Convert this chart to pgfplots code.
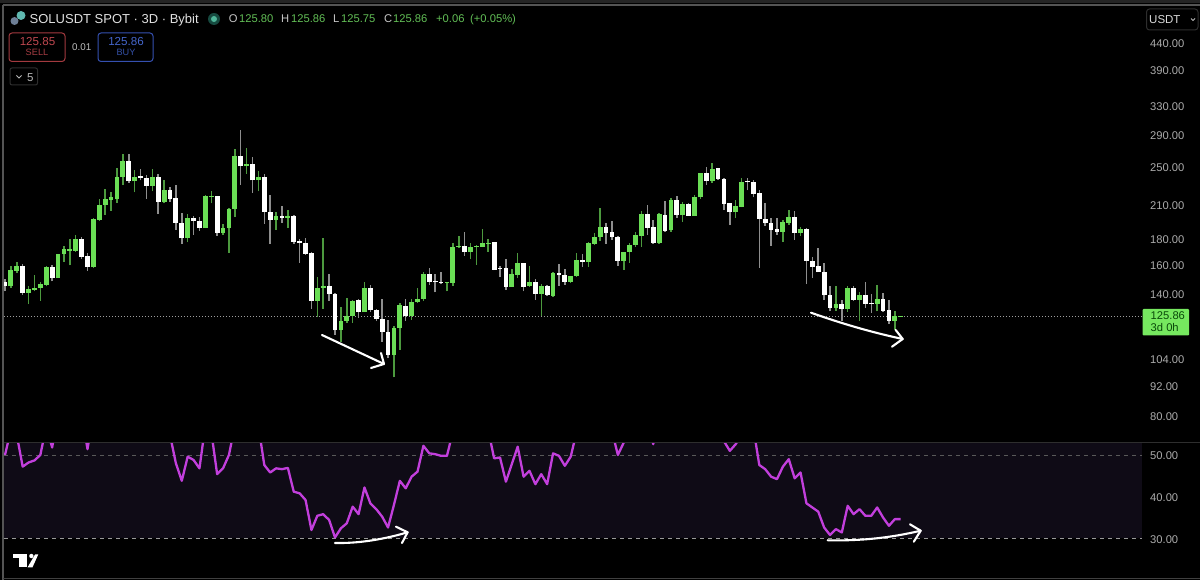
\documentclass[border=0pt]{standalone}
\usepackage{fontspec}
\setmainfont{Liberation Sans}
\usepackage{pgfplots}
\usepackage{pgfplotstable}
\pgfplotsset{compat=1.18}

\definecolor{upbody}{HTML}{6ADE55}
\definecolor{upwick}{HTML}{4C9A3E}
\definecolor{dnbody}{HTML}{FFFFFF}
\definecolor{dnwick}{HTML}{8E8E8E}
\definecolor{rsiline}{HTML}{C23FDC}
\definecolor{rsiband}{HTML}{0F0B16}
\definecolor{tick}{HTML}{ABABAB}
\definecolor{legendgreen}{HTML}{62BE56}
\definecolor{icona}{HTML}{5FB8B0}
\definecolor{iconb}{HTML}{6E7F96}
\definecolor{dothalo}{HTML}{164A40}
\definecolor{dotcore}{HTML}{4FB79A}
\definecolor{sellbox}{HTML}{A33A3F}
\definecolor{selltxt}{HTML}{C04850}
\definecolor{selllab}{HTML}{A83E44}
\definecolor{buybox}{HTML}{3550B0}
\definecolor{buytxt}{HTML}{4566CC}
\definecolor{buylab}{HTML}{3450A6}
\definecolor{tagfill}{HTML}{76E85F}
\definecolor{tagtxt}{HTML}{0A4A0A}

% x low bot top high
\pgfplotstableread{
x low bot top high
1 143.5 144.6 156.0 158.4
2 153.6 155.3 158.8 162.0
4 133.4 140.3 143.1 145.1
5 141.4 142.5 143.8 152.5
6 135.5 143.5 146.1 147.3
7 144.6 145.7 157.9 158.8
9 150.2 150.2 167.8 167.8
10 162.0 167.6 171.5 174.0
11 159.1 170.3 171.9 179.5
12 169.5 170.3 179.7 183.0
15 157.2 157.9 196.6 197.5
16 195.3 196.0 210.0 215.3
17 200.5 209.8 215.7 225.7
18 204.4 214.6 217.3 222.3
19 212.0 215.7 237.9 248.4
20 230.2 237.9 257.0 264.7
22 222.3 233.6 237.9 245.6
25 223.3 229.1 238.4 247.3
27 211.4 212.9 225.0 234.7
31 176.8 180.1 197.8 201.4
34 188.8 189.0 219.0 219.7
35 211.4 217.7 219.0 223.3
37 183.0 184.4 188.8 192.4
38 168.8 188.8 205.8 206.7
39 199.0 205.8 262.7 270.7
41 242.0 250.2 253.2 272.0
43 223.3 234.7 238.4 244.5
46 187.2 196.0 199.6 203.4
48 188.8 197.8 199.6 205.1
53 125.8 135.5 143.8 150.9
54 130.6 143.8 144.8 180.7
57 112.3 118.3 123.7 131.6
58 122.4 123.3 126.5 136.9
59 122.4 126.5 135.5 135.6
61 128.5 128.5 143.8 147.7
66 95.4 105.8 119.4 120.5
67 108.2 119.4 132.6 134.0
69 124.2 126.0 134.4 136.7
70 134.0 134.4 136.7 143.5
71 135.1 136.7 153.1 154.1
75 141.4 147.3 147.7 147.7
76 145.1 147.1 173.2 176.2
77 172.2 173.0 174.2 182.2
79 163.8 169.1 173.5 176.2
80 159.5 173.5 174.2 174.8
81 173.0 173.2 176.2 187.8
82 169.5 175.8 176.6 179.5
86 144.2 144.2 152.7 156.5
87 150.2 152.3 161.2 168.3
89 144.2 144.6 147.7 158.8
91 126.5 139.9 144.6 146.3
93 137.7 138.6 153.9 154.1
96 146.8 147.6 151.8 151.8
97 151.0 151.5 163.0 168.3
99 157.9 162.0 176.2 177.4
100 174.8 175.6 181.5 184.4
101 178.3 181.2 189.7 206.6
105 156.0 162.5 169.5 169.5
106 161.2 169.3 175.0 176.2
107 173.5 175.0 183.0 185.7
108 173.5 182.2 201.4 204.4
111 175.6 176.2 201.1 201.9
113 185.7 186.9 214.3 216.7
115 194.4 200.2 210.7 212.9
117 199.6 199.8 218.0 220.0
118 215.7 217.3 242.8 243.3
120 232.0 234.4 247.6 254.0
124 197.5 202.9 208.5 214.6
125 207.6 208.1 233.3 237.3
132 177.0 185.3 193.9 196.0
133 191.8 193.5 198.7 205.0
135 182.2 184.4 187.8 190.0
141 129.4 131.0 133.7 145.1
143 128.7 130.4 143.5 144.6
145 123.3 136.1 138.8 140.9
148 129.0 133.6 136.7 145.3
151 118.7 123.6 126.1 129.0
152 125.7 125.7 126.0 126.0
}\upcandles

\pgfplotstableread{
x low bot top high
0 141.4 144.6 147.3 149.5
3 139.2 140.3 158.8 160.3
8 147.9 150.2 157.9 159.5
13 163.8 165.7 179.9 181.1
14 155.3 157.9 166.4 168.3
21 232.0 233.6 257.0 264.3
23 234.7 237.3 239.0 247.3
24 215.7 229.1 236.8 240.9
26 201.4 212.9 238.4 241.7
28 212.9 215.7 225.0 227.8
29 187.2 193.5 216.3 230.2
30 175.6 180.1 193.5 201.9
32 183.0 195.4 197.8 199.6
33 186.4 188.8 195.4 199.0
36 182.2 184.4 218.7 219.0
40 230.2 250.2 262.7 295.7
42 221.7 234.7 253.2 261.1
44 192.4 203.2 238.4 242.0
45 175.8 196.0 203.2 220.0
47 193.5 197.8 199.6 208.8
49 175.6 177.4 199.6 200.3
50 161.2 176.2 177.8 179.5
51 167.0 167.6 176.2 180.7
52 130.6 135.5 168.3 169.5
55 135.5 139.4 145.1 153.1
56 115.9 118.3 139.9 140.3
60 125.2 128.5 135.9 136.7
62 128.5 129.6 143.8 145.7
63 123.3 124.6 129.6 130.4
64 112.3 117.5 124.6 136.5
65 104.2 105.8 117.5 123.9
68 123.3 126.0 132.4 136.5
72 145.7 147.7 152.7 157.2
73 140.7 147.3 148.1 153.1
74 145.9 146.8 147.7 154.3
78 166.2 169.1 174.2 185.0
83 155.5 156.0 177.0 177.2
84 150.7 156.7 157.2 158.4
85 142.5 144.2 157.0 163.8
88 141.4 144.2 161.2 161.2
90 136.1 139.9 147.7 149.5
92 138.6 139.2 144.6 145.7
94 145.1 152.0 153.6 160.1
95 145.7 147.6 152.5 156.5
98 157.9 161.8 163.3 167.8
102 175.6 184.4 189.7 192.9
103 178.9 181.2 185.0 195.3
104 158.8 162.5 181.5 182.2
109 183.0 189.2 201.4 209.8
110 175.6 176.2 189.7 196.0
112 185.7 186.6 200.8 213.6
114 197.5 200.2 214.6 218.3
116 199.6 199.8 210.7 211.4
119 230.2 234.1 242.8 249.4
121 235.5 236.5 248.0 248.4
122 205.0 211.0 236.5 236.8
123 191.3 202.9 211.4 212.0
126 224.3 232.6 233.6 237.3
127 217.3 221.0 232.6 235.5
128 157.5 196.9 221.7 225.0
129 190.7 192.9 196.9 211.4
130 174.0 187.2 193.5 197.5
131 183.0 185.3 187.8 197.5
134 178.9 184.6 198.7 204.1
136 146.1 162.5 188.1 188.7
137 150.2 157.9 162.5 165.3
138 154.1 154.3 158.4 172.2
139 136.1 138.8 154.7 161.2
140 129.0 131.0 139.2 145.1
142 123.3 130.4 133.7 136.1
144 135.5 136.1 143.3 144.6
146 131.0 133.4 138.8 147.3
147 128.1 133.4 134.0 139.9
149 128.7 129.2 136.7 140.3
150 122.0 123.6 129.6 135.6
}\downcandles

\pgfplotstableread{
x rsi
0 50
1 56
2 54.8
3 47.2
4 48.2
5 48.7
6 50
7 57
8 51.8
9 60
10 60
11 60
12 60
13 60
14 51.4
15 60
16 62
17 64
18 65
19 67
20 70
21 68
22 66
23 65
24 63
25 63
26 60
27 57
28 54.8
29 48
30 43.8
31 49.6
32 48.8
33 46.8
34 57.2
35 55.6
36 45.4
37 46.8
38 50
39 57
40 66
41 64
42 60
43 57
44 47.6
45 45.8
46 46.8
47 46.6
48 46.9
49 41.2
50 40.8
51 39.2
52 32
53 35.4
54 35.8
55 34.4
56 30.2
57 32.4
58 33.6
59 37.6
60 35.8
61 42.2
62 38.4
63 37
64 35.2
65 32.6
66 38
67 43.8
68 42
69 44.8
70 46
71 52.2
72 50.4
73 50.2
74 49.8
75 49.8
76 55.6
77 62
78 60
79 60
80 60
81 61
82 56
83 49.2
84 49.4
85 43.6
86 47.8
87 52
88 44.8
89 46.2
90 43
91 45.4
92 43
93 50.4
94 49.8
95 47.4
96 49.6
97 55.6
98 58
99 62
100 62
101 60
102 60
103 55.8
104 50
105 53
106 60
107 60
108 62
109 60
110 52.6
111 60
112 60
113 62
114 60
115 60
116 60
117 62
118 66
119 64
120 66
121 57
122 53.3
123 51
124 52.6
125 55
126 56
127 56.4
128 47.6
129 46.6
130 44.8
131 44.2
132 47.2
133 49
134 44.4
135 45.8
136 38.4
137 37.4
138 36.4
139 32.6
140 30.8
141 32.2
142 31.4
143 37.8
144 35.8
145 37
146 35.4
147 35.4
148 37.4
149 35
150 33
151 34.6
152 34.6
}\rsidata

\pgfplotsset{
  chartpane/.style={
    scale only axis,
    width=1138pt,
    xmin=-0.17, xmax=192.94,
    axis line style={draw=none},
    xtick=\empty,
    major tick length=0pt,
    yticklabel pos=right,
    yticklabel style={anchor=west, inner sep=0pt, xshift=8pt, yshift=-1pt, text=tick,
      font=\fontsize{11.2}{13}\selectfont},
  },
}

% one wick and one body per table row
\newcommand{\drawcandles}[3]{%
  \pgfplotstablegetrowsof{#1}%
  \pgfmathtruncatemacro{\lastrow}{\pgfplotsretval-1}%
  \pgfplotsforeachungrouped \r in {0,...,\lastrow}{%
    \pgfplotstablegetelem{\r}{x}\of{#1}\let\cx\pgfplotsretval
    \pgfplotstablegetelem{\r}{low}\of{#1}\let\cl\pgfplotsretval
    \pgfplotstablegetelem{\r}{bot}\of{#1}\let\cb\pgfplotsretval
    \pgfplotstablegetelem{\r}{top}\of{#1}\let\ct\pgfplotsretval
    \pgfplotstablegetelem{\r}{high}\of{#1}\let\ch\pgfplotsretval
    \edef\onecandle{%
      \noexpand\addplot[color=#2, line width=1.5pt, forget plot]
        coordinates {(\cx,\cl) (\cx,\ch)};
      \noexpand\addplot[color=#3, line width=4.8pt, forget plot]
        coordinates {(\cx,\cb) (\cx,\ct)};
    }%
    \onecandle
  }%
}

\begin{document}
\begin{tikzpicture}[x=1pt, y=1pt]
\path[use as bounding box] (0,0) rectangle (1200,580);
\fill[black] (0,0) rectangle (1200,580);

% price pane
\begin{axis}[
  chartpane,
  at={(4pt,138pt)}, anchor=south west,
  height=434pt,
  ymode=log,
  ymin=71.0, ymax=516.3,
  ytick={80,92,104,140,160,180,210,250,290,330,390,440},
  yticklabels={80.00,92.00,104.00,140.00,160.00,180.00,210.00,250.00,290.00,330.00,390.00,440.00},
]
\addplot[color=white!62!black, line width=0.9pt, dash pattern=on 1pt off 2pt, forget plot]
  coordinates {(-0.17,125.86) (192.94,125.86)};
\drawcandles{\upcandles}{upwick}{upbody}
\drawcandles{\downcandles}{dnwick}{dnbody}
\end{axis}

% rsi pane
\begin{axis}[
  chartpane,
  at={(4pt,2pt)}, anchor=south west,
  height=135.7pt,
  ymin=20.47, ymax=53.05,
  ytick={30,40,50},
  yticklabels={30.00,40.00,50.00},
]
\fill[rsiband] (axis cs:-0.17,30) rectangle (axis cs:192.94,53.05);
\addplot[color=white!35!black, line width=0.9pt, dash pattern=on 4pt off 4pt, forget plot]
  coordinates {(-0.17,50) (192.94,50)};
\addplot[color=white!60!black, line width=0.9pt, dash pattern=on 4pt off 4pt, forget plot]
  coordinates {(-0.17,30) (192.94,30)};
\addplot[color=rsiline, line width=2.3pt, line join=round] table[x=x, y=rsi] {\rsidata};
\end{axis}

% everything below is laid out in reference pixels, y downwards
\begin{scope}[shift={(0,580)}, yscale=-1]
% frame
\fill[white!14!black] (0,0) rectangle (1200,3);
\draw[white!33!black, line width=1.2pt] (3,5) -- (1200,5);
\draw[white!33!black, line width=1.2pt] (3,5) -- (3,580);
\draw[white!25!black, line width=1pt] (3,578.8) -- (1200,578.8);
\draw[white!18!black, line width=1.2pt] (4,442.5) -- (1200,442.5);

% hand-drawn arrows
\begin{scope}[white, line width=2.1pt, line cap=round, line join=round]
\draw (322,335) -- (384,364);
\draw (381,353) -- (384,364) -- (371,368);
\draw (811,312.7) .. controls (840,323) and (870,332) .. (902.7,339);
\draw (895.7,330) -- (902.7,339) -- (892,346.7);
\draw (335,543) .. controls (360,543.5) and (385,539) .. (407.6,532.3);
\draw (396,526.7) -- (407.6,532.3) -- (402,543);
\draw (827.7,540.3) .. controls (860,541) and (890,538) .. (920.7,530.7);
\draw (910,524.3) -- (920.7,530.7) -- (913.8,541.7);
\end{scope}

% logo
\fill[white] (12.6,554) rectangle (26.8,558.3);
\fill[white] (19,558) rectangle (26.8,567.3);
\fill[white] (31.4,556) circle (2.2);
\fill[white] (35.2,554.3) -- (38.3,554.3) -- (32.5,567.3) -- (27.6,567.3) -- cycle;

% ticker icon and status dot
\fill[icona] (21,15.5) circle (4.5);
\fill[iconb] (14.5,21) circle (4);
\fill[dothalo] (214,19) circle (6);
\fill[dotcore] (214,19) circle (3);

% sell, buy and bars boxes
\draw[sellbox, rounded corners=3pt, line width=1pt] (9,33) rectangle (65,61.5);
\draw[buybox, rounded corners=3pt, line width=1pt] (98,33) rectangle (153,61.5);
\draw[white!18!black, rounded corners=2pt, line width=1pt] (10,68) rectangle (37.5,85);
\draw[white!18!black, rounded corners=3pt, line width=1pt] (1146.5,9) rectangle (1198,30);
\draw[white!72!black, line width=0.9pt] (16.5,75.5) -- (19,78) -- (21.5,75.5);
\draw[white!72!black, line width=0.9pt] (1191,18.5) -- (1193,20.5) -- (1195,18.5);

% price tag
\fill[tagfill, rounded corners=1pt] (1142.7,309) rectangle (1189,335.5);
\end{scope}

\begin{scope}[every node/.style={inner sep=0pt, anchor=base west}]
\node[text=white!88!black] at (29.5,580-23.5) {\fontsize{13}{15}\selectfont SOLUSDT SPOT · 3D · Bybit};
\foreach \xa/\ta in {228.6/O,281/H,333/L,384/C}
  \node[text=white!78!black] at (\xa,580-23) {\fontsize{11.2}{13}\selectfont\ta};
\foreach \xa/\ta in {239/125.80,291/125.86,341/125.75,393/125.86,436/+0.06,470/(+0.05\%)}
  \node[text=legendgreen] at (\xa,580-23) {\fontsize{11.2}{13}\selectfont\ta};
\node[text=white!75!black] at (72,580-50.5) {\fontsize{9.8}{11}\selectfont 0.01};
\node[text=white!72!black] at (27,580-81.5) {\fontsize{11.5}{13}\selectfont 5};
\node[text=white!85!black] at (1149,580-24) {\fontsize{11.5}{13}\selectfont USDT};
\node[text=tagtxt] at (1150.5,580-320) {\fontsize{11.2}{13}\selectfont 125.86};
\node[text=tagtxt] at (1150.5,580-332) {\fontsize{11.2}{13}\selectfont 3d 0h};
\end{scope}
\begin{scope}[every node/.style={inner sep=0pt, anchor=base}]
\node[text=selltxt] at (37.5,580-45.5) {\fontsize{11.6}{13}\selectfont 125.85};
\node[text=selllab] at (37,580-56) {\fontsize{9.2}{11}\selectfont SELL};
\node[text=buytxt] at (126,580-45.5) {\fontsize{11.6}{13}\selectfont 125.86};
\node[text=buylab] at (126,580-56) {\fontsize{9.2}{11}\selectfont BUY};
\end{scope}
\end{tikzpicture}
\end{document}
